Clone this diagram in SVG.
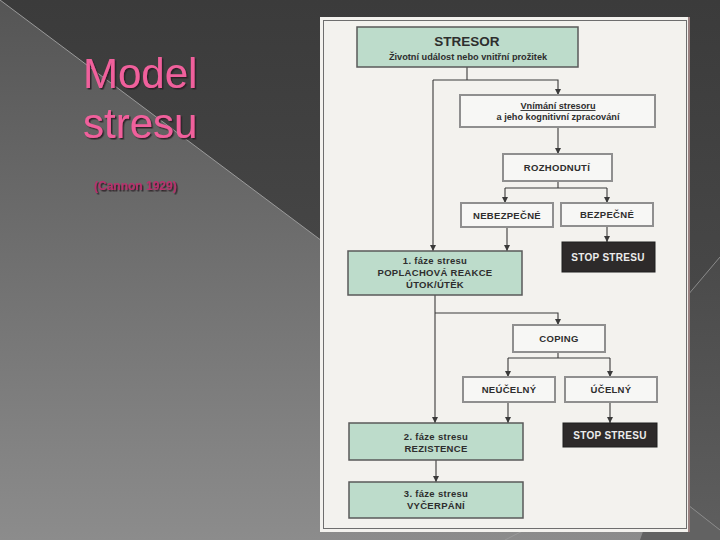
<svg xmlns="http://www.w3.org/2000/svg" width="720" height="540" viewBox="0 0 720 540">
<defs>
<linearGradient id="bgL" x1="0" y1="0" x2="0" y2="1">
<stop offset="0" stop-color="#555555"/>
<stop offset="1" stop-color="#8c8c8c"/>
</linearGradient>
<linearGradient id="bgD" x1="0" y1="0" x2="0" y2="1">
<stop offset="0" stop-color="#3b3b3b"/>
<stop offset="1" stop-color="#4e4e4e"/>
</linearGradient>
<linearGradient id="bgR" x1="0" y1="0" x2="0" y2="1">
<stop offset="0" stop-color="#4a4a4a"/>
<stop offset="1" stop-color="#5e5e5e"/>
</linearGradient>
<filter id="sh" x="-10%" y="-10%" width="130%" height="140%">
<feDropShadow dx="1.5" dy="1.5" stdDeviation="0.6" flood-color="#2a1a22" flood-opacity="0.9"/>
</filter>
<marker id="ah" viewBox="0 0 6 6" refX="6" refY="3" markerWidth="6" markerHeight="6" orient="auto" markerUnits="userSpaceOnUse">
<path d="M0,0 L6,3 L0,6 z" fill="#3a3a3a"/>
</marker>
<style>
.title{font-family:"Liberation Sans",Arial,sans-serif;fill:#f0609c;font-size:42px;}
.cite{font-family:"Liberation Sans",Arial,sans-serif;font-weight:bold;font-size:12px;fill:#b8306c;}
.green{fill:#bddccb;stroke:#5a5a5a;stroke-width:1.5;}
.white{fill:#f7f7f5;stroke:#8f8f8f;stroke-width:2;}
.dark{fill:#2d2a2a;stroke:#1e1e1e;stroke-width:1;}
.t{font-family:"Liberation Sans",Arial,sans-serif;font-weight:bold;font-size:9.5px;fill:#2e2e2e;text-anchor:middle;letter-spacing:0.3px;}
.big{font-size:13.5px;letter-spacing:0;}
.sub{font-size:9.2px;letter-spacing:0;}
.tw{font-family:"Liberation Sans",Arial,sans-serif;font-weight:bold;font-size:10px;fill:#ececec;text-anchor:middle;letter-spacing:0.3px;}
.con{fill:none;stroke:#3a3a3a;stroke-width:1.1;}
</style>
</defs>
<!-- slide background -->
<rect x="0" y="0" width="720" height="540" fill="url(#bgL)"/>
<polygon points="0,0 720,0 720,257 560,450 330,247" fill="url(#bgD)"/>
<polygon points="720,257 660,328 660,483 720,530" fill="url(#bgR)"/>
<polygon points="660,483 720,530 720,540 640,540" fill="#626262"/>
<line x1="0" y1="0" x2="330" y2="247" stroke="#9a9a9a" stroke-width="1"/>
<line x1="720" y1="257" x2="660" y2="328" stroke="#8a8a8a" stroke-width="1"/>
<line x1="660" y1="483" x2="720" y2="530" stroke="#8a8a8a" stroke-width="1"/>
<line x1="505" y1="540" x2="540" y2="522" stroke="#9a9a9a" stroke-width="1"/>
<!-- title -->
<g id="title" filter="url(#sh)">
<text class="title" x="83" y="88">Model</text>
<text class="title" x="83" y="138">stresu</text>
<text class="cite" x="94" y="190">(Cannon 1929)</text>
</g>
<!-- scanned page -->
<rect x="320" y="17" width="370" height="515" fill="#f3f2ee"/>
<rect x="323.5" y="20.5" width="363" height="508" fill="none" stroke="#6e6e6e" stroke-width="1"/>
<line x1="689" y1="17" x2="689" y2="532" stroke="#7a5a5a" stroke-width="1.5"/>
<!-- connectors -->
<g id="connectors">
<polyline class="con" points="467,67 467,80"/>
<polyline class="con" points="433,80 558,80 558,95" marker-end="url(#ah)"/>
<polyline class="con" points="433,80 433,251" marker-end="url(#ah)"/>
<polyline class="con" points="558,127 558,154" marker-end="url(#ah)"/>
<polyline class="con" points="558,181 558,188"/>
<polyline class="con" points="505,188 607,188"/>
<polyline class="con" points="505,188 505,203" marker-end="url(#ah)"/>
<polyline class="con" points="607,188 607,203" marker-end="url(#ah)"/>
<polyline class="con" points="507,227 507,251" marker-end="url(#ah)"/>
<polyline class="con" points="607,226 607,242" marker-end="url(#ah)"/>
<polyline class="con" points="435,295 435,423" marker-end="url(#ah)"/>
<polyline class="con" points="435,313 558,313 558,325" marker-end="url(#ah)"/>
<polyline class="con" points="558,352 558,358"/>
<polyline class="con" points="508,358 610,358"/>
<polyline class="con" points="508,358 508,377" marker-end="url(#ah)"/>
<polyline class="con" points="610,358 610,377" marker-end="url(#ah)"/>
<polyline class="con" points="508,402 508,423" marker-end="url(#ah)"/>
<polyline class="con" points="610,402 610,423" marker-end="url(#ah)"/>
<polyline class="con" points="436,460 436,482" marker-end="url(#ah)"/>
</g>
<!-- nodes -->
<g id="stresor">
<rect class="green" x="357" y="27" width="221" height="40"/>
<text class="t big" x="467" y="46">STRESOR</text>
<text class="t sub" x="468" y="60">Životní událost nebo vnitřní prožitek</text>
</g>
<g id="vnimani">
<rect class="white" x="460" y="95" width="195" height="32"/>
<text class="t sub" x="558" y="109" text-decoration="underline">Vnímání stresoru</text>
<text class="t sub" x="558" y="120">a jeho kognitivní zpracování</text>
</g>
<g id="rozhodnuti">
<rect class="white" x="503" y="154" width="109" height="27"/>
<text class="t" x="557" y="171">ROZHODNUTÍ</text>
</g>
<g id="nebezpecne">
<rect class="white" x="461" y="203" width="92" height="24"/>
<text class="t" x="507" y="219">NEBEZPEČNÉ</text>
</g>
<g id="bezpecne">
<rect class="white" x="561" y="203" width="92" height="23"/>
<text class="t" x="607" y="218">BEZPEČNÉ</text>
</g>
<g id="stop1">
<rect class="dark" x="562" y="242" width="93" height="30"/>
<text class="tw" x="608" y="261">STOP STRESU</text>
</g>
<g id="faze1">
<rect class="green" x="348" y="251" width="174" height="44"/>
<text class="t" x="435" y="264">1. fáze stresu</text>
<text class="t" x="435" y="276">POPLACHOVÁ REAKCE</text>
<text class="t" x="435" y="288">ÚTOK/ÚTĚK</text>
</g>
<g id="coping">
<rect class="white" x="513" y="325" width="92" height="27"/>
<text class="t" x="559" y="342">COPING</text>
</g>
<g id="neucelny">
<rect class="white" x="463" y="377" width="92" height="25"/>
<text class="t" x="509" y="393">NEÚČELNÝ</text>
</g>
<g id="ucelny">
<rect class="white" x="565" y="377" width="92" height="25"/>
<text class="t" x="611" y="393">ÚČELNÝ</text>
</g>
<g id="faze2">
<rect class="green" x="349" y="423" width="174" height="37"/>
<text class="t" x="436" y="440">2. fáze stresu</text>
<text class="t" x="436" y="452">REZISTENCE</text>
</g>
<g id="stop2">
<rect class="dark" x="563" y="423" width="94" height="24"/>
<text class="tw" x="610" y="439">STOP STRESU</text>
</g>
<g id="faze3">
<rect class="green" x="349" y="482" width="174" height="36"/>
<text class="t" x="436" y="497">3. fáze stresu</text>
<text class="t" x="436" y="509">VYČERPÁNÍ</text>
</g>
</svg>
